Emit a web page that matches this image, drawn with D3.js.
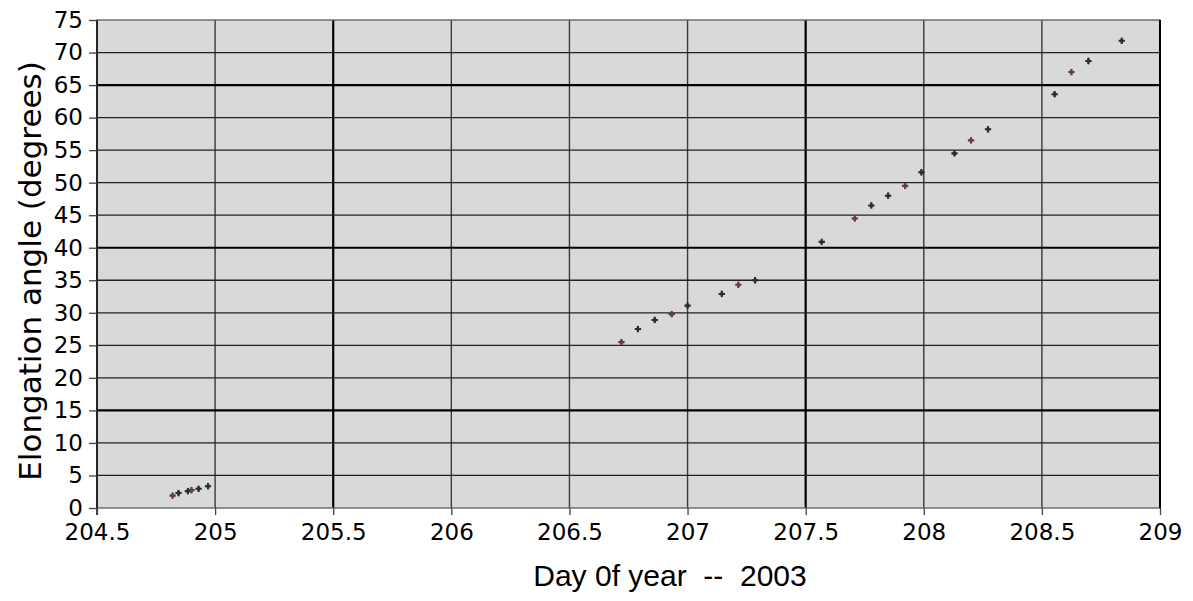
<!DOCTYPE html>
<html>
<head>
    <script src="https://cdn.jsdelivr.net/npm/d3@7"></script>
    <style>
        body { margin: 0; background: #fff; }
        #chart { width: 1193px; height: 601px; display: block; }
    </style>
</head>
<body>

<svg id="chart"></svg>

<script>
    // day of year (2003) and elongation angle in degrees
    const days = [
        204.82, 204.845, 204.885, 204.90, 204.93, 204.97,
        206.72, 206.79, 206.861, 206.933, 207.0, 207.145, 207.215, 207.286,
        207.568, 207.708, 207.778, 207.849, 207.921, 207.99, 208.13, 208.2, 208.272,
        208.554, 208.625, 208.697, 208.838
    ];
    const angles = [
        1.9, 2.3, 2.6, 2.75, 2.95, 3.35,
        25.5, 27.5, 28.9, 29.8, 31.1, 32.9, 34.3, 35.0,
        40.9, 44.5, 46.5, 48.0, 49.5, 51.6, 54.5, 56.5, 58.2,
        63.6, 67.0, 68.7, 71.8
    ];
    const xTicks = [204.5, 205, 205.5, 206, 206.5, 207, 207.5, 208, 208.5, 209];
    const yTicks = [0, 5, 10, 15, 20, 25, 30, 35, 40, 45, 50, 55, 60, 65, 70, 75];

    const width = 1193, height = 601;
    const margin = {left: 97, right: 33, top: 20, bottom: 93};

    const svg = d3.select("#chart");

    const x = d3.scaleLinear().domain([204.5, 209]).range([margin.left, width - margin.right]);
    const y = d3.scaleLinear().domain([0, 75]).range([height - margin.bottom, margin.top]);

    // plot background
    svg.append("rect")
        .attr("x", x(204.5)).attr("y", y(75))
        .attr("width", x(209) - x(204.5))
        .attr("height", y(0) - y(75))
        .attr("fill", "#d9d9d9");

    // grid lines (the heavier ones are where the original rendering had them)
    const heavyX = [205.5, 207.5];
    const heavyY = [15, 40, 65];

    svg.append("g").selectAll("line")
        .data(xTicks.slice(1, -1))
        .join("line")
        .attr("x1", d => x(d)).attr("x2", d => x(d))
        .attr("y1", y(75)).attr("y2", y(0))
        .attr("stroke", d => heavyX.includes(d) ? "#000" : "#3a3a3a")
        .attr("stroke-width", d => heavyX.includes(d) ? 2.2 : 1.4);

    svg.append("g").selectAll("line")
        .data(yTicks.slice(1, -1))
        .join("line")
        .attr("x1", x(204.5)).attr("x2", x(209))
        .attr("y1", d => y(d)).attr("y2", d => y(d))
        .attr("stroke", d => heavyY.includes(d) ? "#000" : "#222")
        .attr("stroke-width", d => heavyY.includes(d) ? 2.2 : 1.3);

    // frame
    svg.append("rect")
        .attr("x", x(204.5)).attr("y", y(75))
        .attr("width", x(209) - x(204.5))
        .attr("height", y(0) - y(75))
        .attr("fill", "none")
        .attr("stroke", "#666")
        .attr("stroke-width", 1.4);
    svg.append("line")
        .attr("x1", x(209)).attr("x2", x(209))
        .attr("y1", y(75)).attr("y2", y(0))
        .attr("stroke", "#000").attr("stroke-width", 2);
    svg.append("line")
        .attr("x1", x(204.5)).attr("x2", x(204.5))
        .attr("y1", y(75)).attr("y2", y(0) + 7)
        .attr("stroke", "#000").attr("stroke-width", 1.5);

    // axes
    const xAxis = svg.append("g")
        .attr("transform", `translate(0,${y(0)})`)
        .call(d3.axisBottom(x).tickValues(xTicks).tickFormat(d3.format("")).tickSize(7).tickPadding(9));
    const yAxis = svg.append("g")
        .attr("transform", `translate(${x(204.5)},0)`)
        .call(d3.axisLeft(y).tickValues(yTicks).tickSize(8).tickPadding(6));

    [xAxis, yAxis].forEach(g => {
        g.select(".domain").remove();
        g.selectAll(".tick line").attr("stroke", "#444").attr("stroke-width", 1.3);
        g.selectAll("text")
            .attr("fill", "#000")
            .style("font-family", "DejaVu Sans")
            .style("font-size", "23px");
    });

    // points
    const pts = days.map((d, i) => [d, angles[i]]);
    svg.append("g").selectAll("path")
        .data(pts)
        .join("path")
        .attr("transform", d => `translate(${x(d[0])},${y(d[1])})`)
        .attr("d", d3.symbol(d3.symbolCross, 22))
        .attr("fill", (d, i) => i % 3 === 0 ? "#5a3445" : "#262626");
    svg.append("g").selectAll("path")
        .data(pts)
        .join("path")
        .attr("transform", d => `translate(${x(d[0])},${y(d[1])})`)
        .attr("d", d3.symbol(d3.symbolDiamond, 14))
        .attr("fill", (d, i) => i % 3 === 0 ? "#6b3a50" : "#2e2e2e");

    // titles
    svg.append("text")
        .attr("transform", `translate(41,${(y(0) + y(75)) / 2 + 7}) rotate(-90)`)
        .attr("text-anchor", "middle")
        .style("font-family", "DejaVu Sans")
        .style("font-size", "31px")
        .text("Elongation angle (degrees)");

    svg.append("text")
        .attr("x", 670)
        .attr("y", 586)
        .attr("text-anchor", "middle")
        .style("font-family", "Liberation Sans")
        .style("font-size", "30px")
        .attr("xml:space", "preserve")
        .text("Day 0f year  --  2003");
</script>
</body>
</html>
